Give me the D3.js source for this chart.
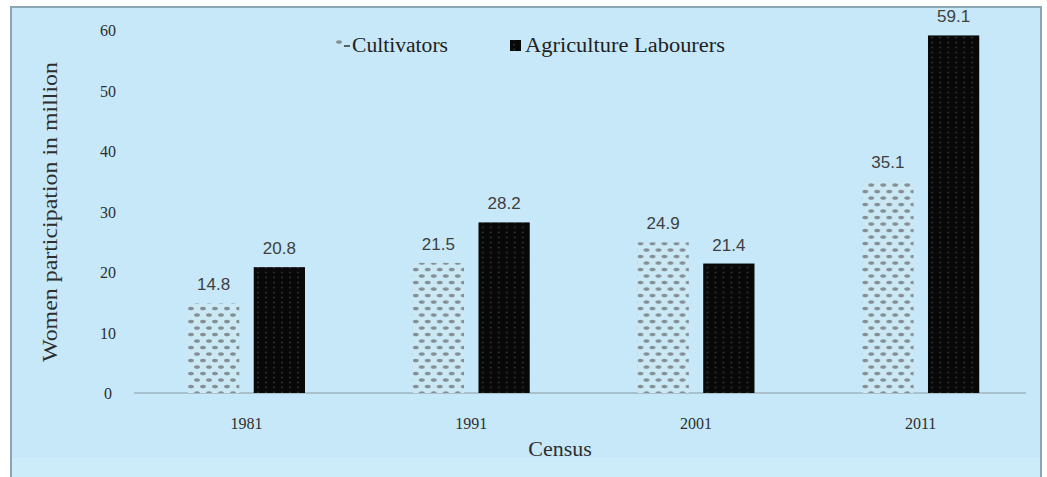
<!DOCTYPE html>
<html>
<head>
<meta charset="utf-8">
<script src="https://cdn.jsdelivr.net/npm/d3@7"></script>
<style>
  body { margin: 0; background: #ffffff; }
  svg { display: block; }
</style>
</head>
<body>
<div id="chart"></div>
<script>
// data
var years = ["1981", "1991", "2001", "2011"];
var seriesNames = ["Cultivators", "Agriculture Labourers"];
var cultivators = [14.8, 21.5, 24.9, 35.1];
var labourers = [20.8, 28.2, 21.4, 59.1];
var yTicks = [0, 10, 20, 30, 40, 50, 60];

var W = 1047, H = 477;
var svg = d3.select("#chart").append("svg")
  .attr("width", W).attr("height", H);

var serif = "'Liberation Serif', 'Times New Roman', serif";

// patterns
var defs = svg.append("defs");
var pDot = defs.append("pattern").attr("id", "dots")
  .attr("patternUnits", "userSpaceOnUse")
  .attr("width", 12).attr("height", 13);
pDot.append("rect").attr("width", 12).attr("height", 13).attr("fill", "#cbe8f5");
pDot.append("ellipse").attr("cx", 3).attr("cy", 3).attr("rx", 2.9).attr("ry", 1.8).attr("fill", "#848f94");
pDot.append("ellipse").attr("cx", 9).attr("cy", 9.5).attr("rx", 2.9).attr("ry", 1.8).attr("fill", "#848f94");

var pDark = defs.append("pattern").attr("id", "dark")
  .attr("patternUnits", "userSpaceOnUse")
  .attr("width", 8).attr("height", 5);
pDark.append("rect").attr("width", 8).attr("height", 5).attr("fill", "#080808");
pDark.append("circle").attr("cx", 4).attr("cy", 2.5).attr("r", 1.1).attr("fill", "#2c2c2c");

// frame
svg.append("rect").attr("x", 11).attr("y", 7).attr("width", 1030).attr("height", 475)
  .attr("fill", "#c6e8f8").attr("stroke", "#8aa6b5").attr("stroke-width", 2);
svg.append("rect").attr("x", 12).attr("y", 458).attr("width", 1028).attr("height", 19)
  .attr("fill", "#cdecfa");

var x = d3.scaleBand().domain(years).range([134, 1033]).padding(0);
var x1 = d3.scaleBand().domain(seriesNames).range([54, 171]).paddingInner(0.22);
var y = d3.scaleLinear().domain([0, 60]).range([393, 30]);

// axis line
svg.append("line").attr("x1", 134).attr("x2", 1026)
  .attr("y1", y(0)).attr("y2", y(0))
  .attr("stroke", "#9fb5c0").attr("stroke-width", 1.5);

// y ticks
svg.append("g").selectAll("text").data(yTicks).enter().append("text")
  .attr("x", 108).attr("y", function(d) { return y(d) + 6; })
  .attr("text-anchor", "middle")
  .style("font-family", serif).style("font-size", "16px")
  .attr("fill", "#2e2e2e")
  .text(function(d) { return d; });

// x ticks
svg.append("g").selectAll("text").data(years).enter().append("text")
  .attr("x", function(d) { return x(d) + x.bandwidth() / 2; })
  .attr("y", 429)
  .attr("text-anchor", "middle")
  .style("font-family", serif).style("font-size", "16px")
  .attr("fill", "#2e2e2e")
  .text(function(d) { return d; });

// bars
var rows = years.map(function(yr, i) {
  return [
    {year: yr, key: "Cultivators", value: cultivators[i]},
    {year: yr, key: "Agriculture Labourers", value: labourers[i]}
  ];
});
var fills = {"Cultivators": "url(#dots)", "Agriculture Labourers": "url(#dark)"};

var groups = svg.append("g").selectAll("g").data(rows).enter().append("g")
  .attr("transform", function(d) { return "translate(" + x(d[0].year) + ",0)"; });

groups.selectAll("rect").data(function(d) { return d; }).enter().append("rect")
  .attr("x", function(d) { return x1(d.key); })
  .attr("y", function(d) { return y(d.value); })
  .attr("width", x1.bandwidth())
  .attr("height", function(d) { return y(0) - y(d.value); })
  .attr("fill", function(d) { return fills[d.key]; });

groups.selectAll("text").data(function(d) { return d; }).enter().append("text")
  .attr("x", function(d) { return x1(d.key) + x1.bandwidth() / 2; })
  .attr("y", function(d) { return y(d.value) - 13; })
  .attr("text-anchor", "middle")
  .style("font-family", "'Liberation Sans', sans-serif").style("font-size", "17px")
  .attr("fill", "#404040")
  .text(function(d) { return d.value.toFixed(1); });

// axis titles
svg.append("text")
  .attr("transform", "translate(57,212) rotate(-90)")
  .attr("text-anchor", "middle")
  .attr("textLength", 300).attr("lengthAdjust", "spacingAndGlyphs")
  .style("font-family", serif).style("font-size", "20px")
  .attr("fill", "#2e2e2e")
  .text("Women participation in million");

svg.append("text")
  .attr("x", 560).attr("y", 456)
  .attr("text-anchor", "middle")
  .style("font-family", serif).style("font-size", "22px")
  .attr("fill", "#2e2e2e")
  .text("Census");

// legend
var legendX = [336, 510];
var legendW = [96, 200];
var legend = svg.append("g").selectAll("g").data(seriesNames).enter().append("g")
  .attr("transform", function(d, i) { return "translate(" + legendX[i] + ",52)"; });
legend.append("rect")
  .attr("x", 0).attr("y", function(d, i) { return i === 0 ? -12 : -12; })
  .attr("width", function(d, i) { return i === 0 ? 6 : 11; })
  .attr("height", function(d, i) { return i === 0 ? 6 : 11; })
  .attr("fill", function(d) { return fills[d]; });
legend.filter(function(d, i) { return i === 0; }).append("line")
  .attr("x1", 8).attr("x2", 14).attr("y1", -6).attr("y2", -6)
  .attr("stroke", "#333").attr("stroke-width", 1.5);
legend.append("text")
  .attr("x", function(d, i) { return i === 0 ? 16 : 15; })
  .attr("y", 0)
  .attr("textLength", function(d, i) { return legendW[i]; })
  .attr("lengthAdjust", "spacingAndGlyphs")
  .style("font-family", serif).style("font-size", "20px")
  .attr("fill", "#222")
  .text(function(d) { return d; });
</script>
</body>
</html>
